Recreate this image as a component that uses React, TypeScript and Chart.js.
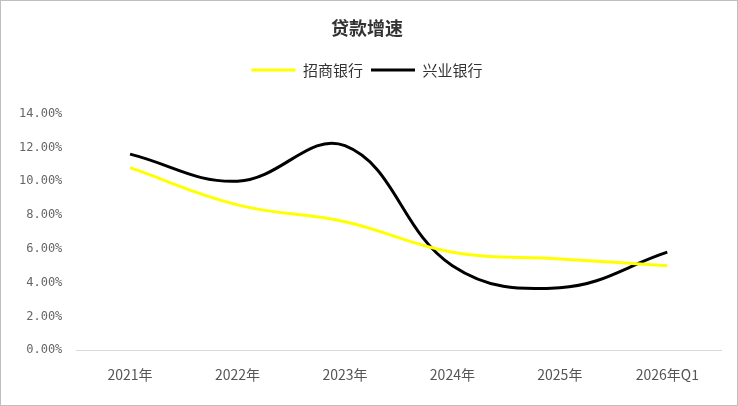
import React, { useEffect, useRef } from "react";
import { Chart, registerables } from "chart.js";
Chart.register(...registerables);

const categories = ["2021年", "2022年", "2023年", "2024年", "2025年", "2026年Q1"];
const cmb = [10.8, 8.6, 7.6, 5.8, 5.4, 5.0];
const cib = [11.6, 10.0, 12.1, 5.0, 3.7, 5.8];
const yTicks = [0, 2, 4, 6, 8, 10, 12, 14];

export default function App() {
  const ref = useRef<HTMLCanvasElement>(null);
  useEffect(() => {
    document.body.style.margin = "0";
    const font = "'Noto Sans CJK SC', 'Noto Sans', sans-serif";
    const chart = new Chart(ref.current!, {
      type: "line",
      data: {
        labels: categories,
        datasets: [
          { label: "招商银行", data: cmb, borderColor: "#FFFF00", backgroundColor: "#FFFF00", borderWidth: 3, pointRadius: 0, tension: 0.4 },
          { label: "兴业银行", data: cib, borderColor: "#000000", backgroundColor: "#000000", borderWidth: 3, pointRadius: 0, tension: 0.4 },
        ],
      },
      options: {
        animation: false,
        responsive: false,
        layout: { padding: { left: 12, right: 16, top: 6, bottom: 14 } },
        plugins: {
          title: { display: true, text: "贷款增速", font: { family: font, size: 18, weight: "bold" }, color: "#333", padding: { top: 10, bottom: 16 } },
          legend: {
            labels: {
              font: { family: font, size: 15 }, color: "#333",
              boxWidth: 44, boxHeight: 3, padding: 8,
              generateLabels: (c: any) => c.data.datasets.map((d: any, i: number) => ({
                text: d.label, fillStyle: d.borderColor, strokeStyle: d.borderColor, lineWidth: 0, datasetIndex: i, fontColor: "#333",
              })),
            },
          },
          tooltip: { enabled: false },
        },
        scales: {
          x: {
            offset: true,
            grid: { display: false },
            border: { color: "#d9d9d9" },
            ticks: { font: { family: font, size: 14 }, color: "#555", padding: 8 },
          },
          y: {
            min: 0, max: 14,
            afterBuildTicks: (s: any) => { s.ticks = yTicks.map((v) => ({ value: v })); },
            afterFit: (s: any) => { s.paddingTop = 0; },
            grid: { display: false },
            border: { display: false },
            ticks: { font: { family: "'DejaVu Sans Mono', monospace", size: 12 }, color: "#666", padding: 6, callback: (v: any) => Number(v).toFixed(2) + "%" },
          },
        },
      },
      plugins: [{
        id: "legendGap",
        beforeInit(c: any) {
          const orig = c.legend.fit;
          c.legend.fit = function () { orig.bind(c.legend)(); this.height += 26; };
        },
      }],
    });
    return () => chart.destroy();
  }, []);
  return (
    <div style={{ width: 738, height: 406, boxSizing: "border-box", border: "1px solid #bfbfbf", background: "#fff" }}>
      <canvas ref={ref} width={736} height={404} />
    </div>
  );
}
